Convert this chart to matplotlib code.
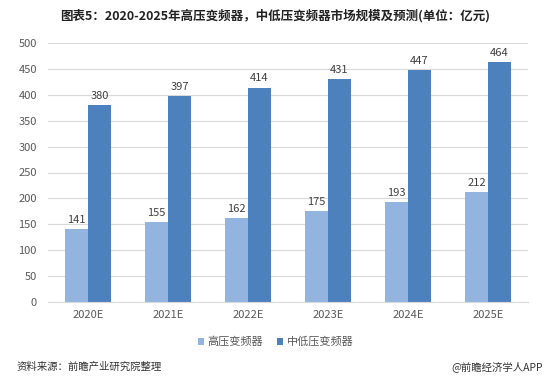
import matplotlib
matplotlib.use("Agg")
import matplotlib.pyplot as plt
import numpy as np

plt.rcParams['font.family'] = ['Noto Sans CJK SC', 'DejaVu Sans']

categories = ["2020E", "2021E", "2022E", "2023E", "2024E", "2025E"]
high_voltage = [141, 155, 162, 175, 193, 212]
mid_low_voltage = [380, 397, 414, 431, 447, 464]
series_names = ["高压变频器", "中低压变频器"]
title = "图表5：2020-2025年高压变频器，中低压变频器市场规模及预测(单位：亿元)"

c_light = "#92B4DE"
c_dark = "#4D81BE"

fig = plt.figure(figsize=(5.51, 3.84), dpi=100)
ax = fig.add_axes([48/551, 1-302/384, 480/551, 259/384])

x = np.arange(len(categories))
w = 0.2875
b1 = ax.bar(x - w/2, high_voltage, w, color=c_light, label=series_names[0])
b2 = ax.bar(x + w/2, mid_low_voltage, w, color=c_dark, label=series_names[1])
for bars, vals in ((b1, high_voltage), (b2, mid_low_voltage)):
    for r, v in zip(bars, vals):
        ax.text(r.get_x() + r.get_width()/2, v + 8, str(v), ha='center', va='bottom',
                fontsize=8, color='#404040')

ax.set_ylim(0, 500)
ax.set_yticks(range(0, 501, 50))
ax.set_xlim(-0.5, len(categories) - 0.5)
ax.set_xticks(x)
ax.set_xticklabels(categories)
ax.tick_params(axis='both', length=0, labelsize=8, colors='#595959')
ax.tick_params(axis='x', pad=6)
ax.tick_params(axis='y', pad=8)
ax.grid(axis='y', color='#D9D9D9', linewidth=0.8)
ax.set_axisbelow(True)
for s in ('top', 'right', 'left'):
    ax.spines[s].set_visible(False)
ax.spines['bottom'].set_color('#D9D9D9')

fig.legend(handles=[b1, b2], labels=series_names, loc='center', bbox_to_anchor=(0.5, 0.11),
           ncol=2, frameon=False, fontsize=8, handlelength=0.6, handleheight=0.6,
           handletextpad=0.3, columnspacing=1.2, labelcolor='#595959')

fig.text(0.5, 0.96, title, ha='center', va='center', fontsize=9, fontweight='bold', color='#222222')
fig.text(0.03, 0.045, "资料来源：前瞻产业研究院整理", ha='left', va='center', fontsize=7.5, color='#333333')
fig.text(0.985, 0.045, "@前瞻经济学人APP", ha='right', va='center', fontsize=7.5, color='#333333')

fig.savefig("out.png", dpi=100)
